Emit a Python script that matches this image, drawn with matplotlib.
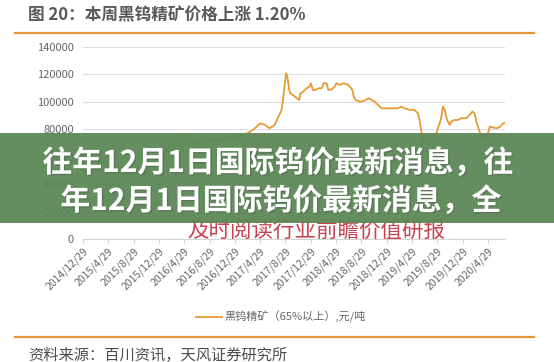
import numpy as np
import pandas as pd
import matplotlib
matplotlib.use("Agg")
import matplotlib.pyplot as plt
import matplotlib.dates as mdates
import matplotlib.patheffects as pe
from matplotlib.patches import Rectangle

plt.rcParams['font.family'] = ['Noto Sans CJK SC', 'DejaVu Sans']

# 黑钨精矿 (65%以上) price, yuan/ton
# (the part before 2016/3 sits under the banner and is only a guess)
dates = [
    "2014-12-29", "2015-02-15", "2015-04-15", "2015-06-15", "2015-08-15",
    "2015-10-15", "2015-12-15", "2016-01-20", "2016-02-20", "2016-03-04",
    "2016-03-24", "2016-04-22", "2016-05-16", "2016-06-04", "2016-06-19",
    "2016-07-13", "2016-08-17", "2016-09-10", "2016-10-18", "2016-11-12",
    "2016-12-06", "2017-01-08", "2017-02-07", "2017-03-02", "2017-03-26",
    "2017-04-29", "2017-05-23", "2017-06-14", "2017-07-08", "2017-07-26",
    "2017-08-10", "2017-08-17", "2017-08-26", "2017-09-01", "2017-09-07",
    "2017-09-16", "2017-09-22", "2017-10-13", "2017-11-03", "2017-11-09",
    "2017-11-22", "2017-12-08", "2017-12-22", "2017-12-29", "2018-01-08",
    "2018-01-19", "2018-02-04", "2018-02-20", "2018-02-28", "2018-03-15",
    "2018-03-23", "2018-04-08", "2018-04-23", "2018-05-01", "2018-05-17",
    "2018-06-02", "2018-06-19", "2018-07-05", "2018-07-17", "2018-07-23",
    "2018-08-01", "2018-08-22", "2018-09-13", "2018-10-01", "2018-10-17",
    "2018-11-01", "2018-11-17", "2018-12-05", "2019-01-14", "2019-02-22",
    "2019-03-10", "2019-03-26", "2019-04-19", "2019-05-12", "2019-05-28",
    "2019-06-05", "2019-06-13", "2019-06-20", "2019-06-29", "2019-07-23",
    "2019-08-07", "2019-08-26", "2019-09-01", "2019-09-10", "2019-09-18",
    "2019-09-25", "2019-10-04", "2019-10-15", "2019-10-29", "2019-11-04",
    "2019-11-20", "2019-12-06", "2019-12-22", "2020-01-16", "2020-02-01",
    "2020-02-14", "2020-02-25", "2020-03-04", "2020-03-17", "2020-03-30",
    "2020-04-14", "2020-04-29", "2020-05-08", "2020-06-10", "2020-06-26",
    "2020-07-12", "2020-07-20",
]
prices = [
    60500, 58000, 55000, 52500, 50000,
    47500, 49000, 58000, 70000, 70700,
    75100, 75800, 75100, 70700, 70000,
    72200, 70400, 72900, 71800, 75100,
    72900, 75100, 75800, 77300, 79500,
    84300, 83100, 80700, 83100, 89100,
    94000, 101300, 113400, 120700, 118200,
    108500, 106100, 103700, 101300, 106100,
    107300, 109800, 110900, 113400, 108500,
    108500, 109800, 109800, 113400, 113400,
    108500, 109000, 110900, 113400, 112200,
    113400, 112900, 110900, 108500, 103700,
    101300, 100000, 100800, 102500, 101300,
    100000, 97600, 95200, 95200, 95200,
    96400, 95200, 94000, 94000, 91600,
    86700, 79500, 72200, 72200, 73600,
    74400, 77300, 80900, 84300, 89100,
    96400, 94000, 86700, 83100, 85500,
    86700, 86700, 88000, 88000, 90400,
    92800, 91600, 85500, 79500, 73600,
    74400, 77000, 81900, 80700, 81900,
    84300, 84800,
]

tick_dates = [
    "2014-12-29", "2015-04-29", "2015-08-29", "2015-12-29", "2016-04-29",
    "2016-08-29", "2016-12-29", "2017-04-29", "2017-08-29", "2017-12-29",
    "2018-04-29", "2018-08-29", "2018-12-29", "2019-04-29", "2019-08-29",
    "2019-12-29", "2020-04-29",
]
y_ticks = [0, 20000, 40000, 60000, 80000, 100000, 120000, 140000]

title = "图 20：本周黑钨精矿价格上涨 1.20%"
series_name = "黑钨精矿（65%以上）,元/吨"
source = "资料来源：百川资讯，天风证券研究所"
banner_lines = ["往年12月1日国际钨价最新消息，往", "年12月1日国际钨价最新消息，全"]
watermark = "及时阅读行业前瞻价值研报"

orange = "#E3953F"
line_color = "#E79B36"
grey = "#666666"

x = pd.to_datetime(dates)
ticks = pd.to_datetime(tick_dates)

fig = plt.figure(figsize=(5.54, 3.62), dpi=100)
ax = fig.add_axes([0.1498, 0.339, 0.9116 - 0.1498, 0.871 - 0.339])

ax.plot(x, prices, color=line_color, lw=1.3, label=series_name)

ax.set_ylim(0, 140000)
ax.set_yticks(y_ticks)
ax.set_yticklabels([str(v) for v in y_ticks])
ax.set_xlim(x[0], x[-1])
ax.set_xticks(ticks)
ax.set_xticklabels([f"{d.year}/{d.month}/{d.day}" for d in ticks],
                   rotation=45, ha="right", rotation_mode="anchor")

ax.grid(axis="y", color="#dedede", lw=0.8)
ax.set_axisbelow(True)
for side in ["top", "right", "left"]:
    ax.spines[side].set_visible(False)
ax.spines["bottom"].set_color("#d4d4d4")
ax.tick_params(axis="y", length=0, pad=6.5, labelsize=8, labelcolor=grey)
ax.tick_params(axis="x", length=3, color="#d4d4d4", pad=2, labelsize=7.5,
               labelcolor=grey)

ax.legend(loc="center", bbox_to_anchor=(0.507, 0.124),
          bbox_transform=fig.transFigure, frameon=False, fontsize=8,
          labelcolor=grey, handlelength=2.3, handletextpad=0.2)

# header / footer
fig.text(28 / 554, 1 - 15 / 362, title, fontsize=12, fontweight="bold",
         color="#595959", va="center", ha="left")
fig.lines.append(plt.Line2D([15 / 554, 534 / 554], [1 - 33 / 362] * 2,
                            transform=fig.transFigure, color=orange, lw=1.6))
fig.lines.append(plt.Line2D([15 / 554, 534 / 554], [1 - 337 / 362] * 2,
                            transform=fig.transFigure, color=orange, lw=1.6))
fig.text(28 / 554, 1 - 355 / 362, source, fontsize=11, color="#4d4d4d",
         va="center", ha="left")

# watermark and overlay banner
fig.text(316 / 554, 1 - 231 / 362, watermark, fontsize=15.5, color="#c8424f",
         va="center", ha="center", zorder=5)
fig.patches.append(Rectangle((0, 1 - 223 / 362), 1, 90 / 362,
                             transform=fig.transFigure, facecolor="#5a8755",
                             edgecolor="none", alpha=0.94, zorder=10))
shadow = [pe.withSimplePatchShadow(offset=(1, -1), alpha=0.35)]
fig.text(278 / 554, 1 - 163 / 362, banner_lines[0], fontsize=21.5,
         fontweight="bold", color="white", va="center", ha="center",
         zorder=11, path_effects=shadow)
fig.text(281 / 554, 1 - 201 / 362, banner_lines[1], fontsize=21.5,
         fontweight="bold", color="white", va="center", ha="center",
         zorder=11, path_effects=shadow)

fig.savefig("out.png", dpi=100)
